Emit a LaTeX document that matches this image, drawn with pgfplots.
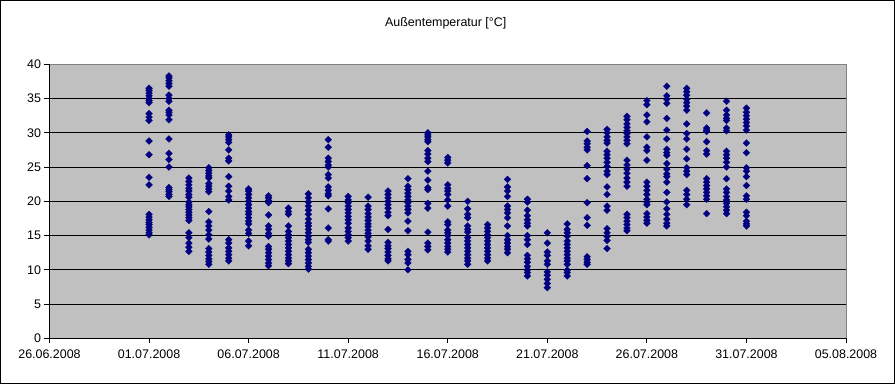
\documentclass[border=0pt]{standalone}
\usepackage{pgfplots}
\pgfplotsset{compat=1.18}
\usepackage{fontspec}
\setmainfont{Liberation Sans}
\definecolor{plotgray}{HTML}{C0C0C0}
\definecolor{bordergray}{HTML}{808080}
\definecolor{navy}{HTML}{000080}
\begin{document}
\begin{tikzpicture}
\begin{axis}[
  scale only axis, width=796.5bp, height=274bp,
  xmin=0, xmax=40, ymin=0, ymax=40,
  axis lines*=left, axis line style={-, black, line width=1bp},
  axis background/.style={fill=plotgray},
  xtick={0,5,...,40},
  xticklabels={26.06.2008,01.07.2008,06.07.2008,11.07.2008,16.07.2008,21.07.2008,26.07.2008,31.07.2008,05.08.2008},
  ytick={0,5,...,40},
  ymajorgrids, grid style={black, line width=1bp},
  tick align=outside, major tick length=5bp,
  tick style={black, line width=1bp},
  /pgf/number format/assume math mode=true,
  tick label style={font=\fontsize{12.5}{14}\selectfont},
  xticklabel style={yshift=-3bp},
  clip=false,
]
\addplot[only marks, mark=square*, mark size=2.45bp, mark options={rotate=45, fill=navy, draw=navy, line width=0.2bp}] coordinates {
(5,36.5)(5,36.2)(5,35.8)(5,35.4)(5,35.0)(5,34.7)(5,34.4)(5,32.8)(5,32.3)(5,31.8)(5,28.8)(5,26.8)(5,23.5)(5,22.4)(5,18.1)(5,17.7)(5,17.3)(5,16.9)(5,16.6)(5,16.2)(5,15.8)(5,15.4)(5,15.1)
(6,38.3)(6,38.0)(6,37.6)(6,37.2)(6,36.8)(6,35.5)(6,35.0)(6,34.6)(6,33.3)(6,33.0)(6,32.6)(6,31.9)(6,29.1)(6,27.0)(6,26.1)(6,25.0)(6,22.0)(6,21.7)(6,21.4)(6,21.0)(6,20.7)
(7,23.4)(7,22.9)(7,22.4)(7,21.9)(7,21.5)(7,21.0)(7,20.6)(7,19.9)(7,19.5)(7,19.2)(7,18.8)(7,18.4)(7,18.0)(7,17.6)(7,17.2)(7,15.4)(7,14.7)(7,13.9)(7,13.3)(7,12.7)
(8,24.9)(8,24.5)(8,24.1)(8,23.7)(8,23.4)(8,22.6)(8,22.2)(8,21.8)(8,21.4)(8,18.5)(8,17.0)(8,16.4)(8,15.8)(8,15.1)(8,14.5)(8,13.1)(8,12.6)(8,12.1)(8,11.6)(8,11.2)(8,10.8)
(9,29.7)(9,29.4)(9,29.0)(9,28.6)(9,27.5)(9,26.3)(9,25.9)(9,23.6)(9,22.2)(9,21.5)(9,20.7)(9,20.2)(9,14.4)(9,13.9)(9,13.2)(9,12.7)(9,12.2)(9,11.7)(9,11.3)
(10,21.8)(10,21.5)(10,21.0)(10,20.5)(10,20.0)(10,19.5)(10,19.0)(10,18.5)(10,18.1)(10,17.6)(10,17.1)(10,16.7)(10,15.8)(10,15.3)(10,14.2)(10,13.5)
(11,20.8)(11,20.5)(11,20.1)(11,19.8)(11,18.0)(11,16.4)(11,15.9)(11,15.3)(11,14.9)(11,13.4)(11,13.0)(11,12.5)(11,12.0)(11,11.5)(11,11.0)(11,10.6)
(12,19.0)(12,18.5)(12,18.1)(12,16.4)(12,15.6)(12,15.1)(12,14.7)(12,14.2)(12,13.7)(12,13.2)(12,12.7)(12,12.2)(12,11.7)(12,11.3)(12,10.9)
(13,21.1)(13,20.5)(13,19.9)(13,19.3)(13,18.7)(13,18.1)(13,17.4)(13,16.8)(13,16.4)(13,15.9)(13,15.4)(13,14.9)(13,14.4)(13,14.0)(13,13.0)(13,12.5)(13,12.0)(13,11.5)(13,11.0)(13,10.5)(13,10.1)
(14,29.0)(14,27.9)(14,26.3)(14,25.8)(14,25.3)(14,25.0)(14,23.9)(14,23.4)(14,22.1)(14,21.6)(14,21.1)(14,20.8)(14,18.9)(14,16.1)(14,14.4)(14,14.2)
(15,20.7)(15,20.2)(15,19.8)(15,19.3)(15,18.8)(15,18.3)(15,17.8)(15,17.3)(15,16.8)(15,16.1)(15,15.6)(15,15.1)(15,14.7)(15,14.2)
(16,20.6)(16,19.3)(16,18.8)(16,18.2)(16,17.7)(16,17.2)(16,16.7)(16,16.3)(16,15.8)(16,15.3)(16,14.8)(16,14.2)(16,13.5)(16,13.0)
(17,21.5)(17,21.0)(17,20.5)(17,20.0)(17,19.5)(17,19.0)(17,18.4)(17,17.9)(17,15.9)(17,14.0)(17,13.5)(17,13.1)(17,12.6)(17,12.1)(17,11.6)(17,11.3)
(18,23.3)(18,22.2)(18,21.7)(18,21.2)(18,20.7)(18,20.2)(18,19.8)(18,19.3)(18,18.8)(18,18.3)(18,17.1)(18,15.7)(18,12.7)(18,12.2)(18,11.5)(18,11.0)(18,10.0)
(19,30.0)(19,29.7)(19,29.4)(19,29.0)(19,28.7)(19,27.4)(19,26.9)(19,26.3)(19,25.8)(19,24.4)(19,23.1)(19,22.0)(19,21.7)(19,19.7)(19,19.0)(19,15.5)(19,13.9)(19,13.4)(19,12.9)
(20,26.4)(20,26.0)(20,25.6)(20,22.4)(20,21.9)(20,21.5)(20,21.0)(20,20.2)(20,19.3)(20,17.0)(20,16.6)(20,15.8)(20,15.4)(20,15.0)(20,14.4)(20,13.9)(20,13.4)(20,13.0)(20,12.6)
(21,20.0)(21,18.9)(21,18.1)(21,17.6)(21,16.4)(21,15.9)(21,15.5)(21,14.7)(21,14.2)(21,13.7)(21,13.2)(21,12.7)(21,12.2)(21,11.7)(21,11.3)(21,10.8)
(22,16.6)(22,16.1)(22,15.6)(22,15.1)(22,14.7)(22,14.2)(22,13.7)(22,13.2)(22,12.7)(22,12.2)(22,11.7)(22,11.3)
(23,23.2)(23,22.1)(23,21.5)(23,20.7)(23,19.3)(23,18.8)(23,18.3)(23,17.6)(23,16.4)(23,15.0)(23,14.4)(23,13.9)(23,13.4)(23,13.0)(23,12.5)
(24,20.3)(24,19.9)(24,18.7)(24,17.9)(24,17.3)(24,16.8)(24,16.4)(24,15.0)(24,14.4)(24,13.7)(24,12.1)(24,11.6)(24,11.1)(24,10.5)(24,10.0)(24,9.6)(24,9.1)
(25,15.4)(25,13.9)(25,12.6)(25,12.1)(25,11.3)(25,10.8)(25,9.7)(25,9.2)(25,8.6)(25,8.0)(25,7.4)
(26,16.7)(26,15.9)(26,15.4)(26,14.9)(26,14.2)(26,13.7)(26,13.2)(26,12.7)(26,12.2)(26,11.7)(26,11.3)(26,10.8)(26,9.95)(26,9.6)(26,9.1)
(27,30.2)(27,28.8)(27,28.4)(27,27.9)(27,27.5)(27,25.2)(27,23.3)(27,19.8)(27,17.6)(27,16.5)(27,11.9)(27,11.5)(27,11.1)(27,10.8)
(28,30.5)(28,30.0)(28,29.4)(28,28.9)(28,28.5)(28,27.3)(28,26.8)(28,26.3)(28,25.7)(28,25.1)(28,24.4)(28,23.9)(28,22.1)(28,21.0)(28,19.3)(28,18.7)(28,16.0)(28,15.4)(28,14.9)(28,14.3)(28,13.1)
(29,32.4)(29,31.9)(29,31.3)(29,30.8)(29,30.3)(29,29.9)(29,29.4)(29,28.9)(29,28.4)(29,26.0)(29,25.3)(29,24.7)(29,24.1)(29,23.4)(29,22.8)(29,22.2)(29,18.1)(29,17.6)(29,17.1)(29,16.6)(29,16.1)(29,15.7)
(30,34.7)(30,34.1)(30,32.6)(30,31.6)(30,29.4)(30,27.9)(30,27.4)(30,26.0)(30,22.8)(30,22.2)(30,21.6)(30,21.0)(30,20.3)(30,19.9)(30,19.5)(30,18.2)(30,17.7)(30,17.2)(30,16.8)
(31,36.8)(31,35.4)(31,34.9)(31,34.3)(31,32.1)(31,30.4)(31,29.1)(31,27.6)(31,27.1)(31,26.7)(31,25.5)(31,24.7)(31,24.0)(31,23.6)(31,22.8)(31,21.3)(31,19.9)(31,18.9)(31,18.1)(31,17.4)(31,16.8)(31,16.4)
(32,36.5)(32,36.0)(32,35.5)(32,34.9)(32,34.4)(32,33.9)(32,33.3)(32,31.3)(32,29.9)(32,29.1)(32,27.6)(32,26.2)(32,24.9)(32,24.4)(32,23.9)(32,21.6)(32,21.0)(32,20.3)(32,19.5)
(33,32.9)(33,30.7)(33,30.4)(33,30.2)(33,28.7)(33,27.4)(33,26.9)(33,23.3)(33,22.8)(33,22.3)(33,21.8)(33,21.3)(33,20.8)(33,20.3)(33,18.2)
(34,34.6)(34,33.3)(34,32.6)(34,32.1)(34,31.8)(34,30.7)(34,30.3)(34,27.3)(34,26.8)(34,26.3)(34,25.7)(34,25.0)(34,23.3)(34,21.8)(34,21.3)(34,20.7)(34,20.2)(34,19.7)(34,19.2)(34,18.7)(34,18.2)
(35,33.6)(35,33.0)(35,32.5)(35,32.0)(35,31.5)(35,31.0)(35,30.4)(35,28.5)(35,27.1)(35,24.9)(35,24.4)(35,23.6)(35,22.3)(35,20.8)(35,20.3)(35,18.4)(35,17.9)(35,17.1)(35,16.7)(35,16.4)
};
\draw[bordergray, line width=1bp] (rel axis cs:0,1) -- (rel axis cs:1,1) -- (rel axis cs:1,0);
\draw[black, line width=1bp] (rel axis cs:0,0) -- (rel axis cs:0,1);
\node[font=\fontsize{12.5}{14}\selectfont] at ([xshift=-2bp,yshift=41bp]rel axis cs:0.5,1) {Außentemperatur [°C]};
\end{axis}
\draw[black, line width=1bp] ([xshift=-49bp,yshift=-45.2bp]current axis.south west) rectangle ([xshift=48.5bp,yshift=63.8bp]current axis.north east);
\end{tikzpicture}
\end{document}
